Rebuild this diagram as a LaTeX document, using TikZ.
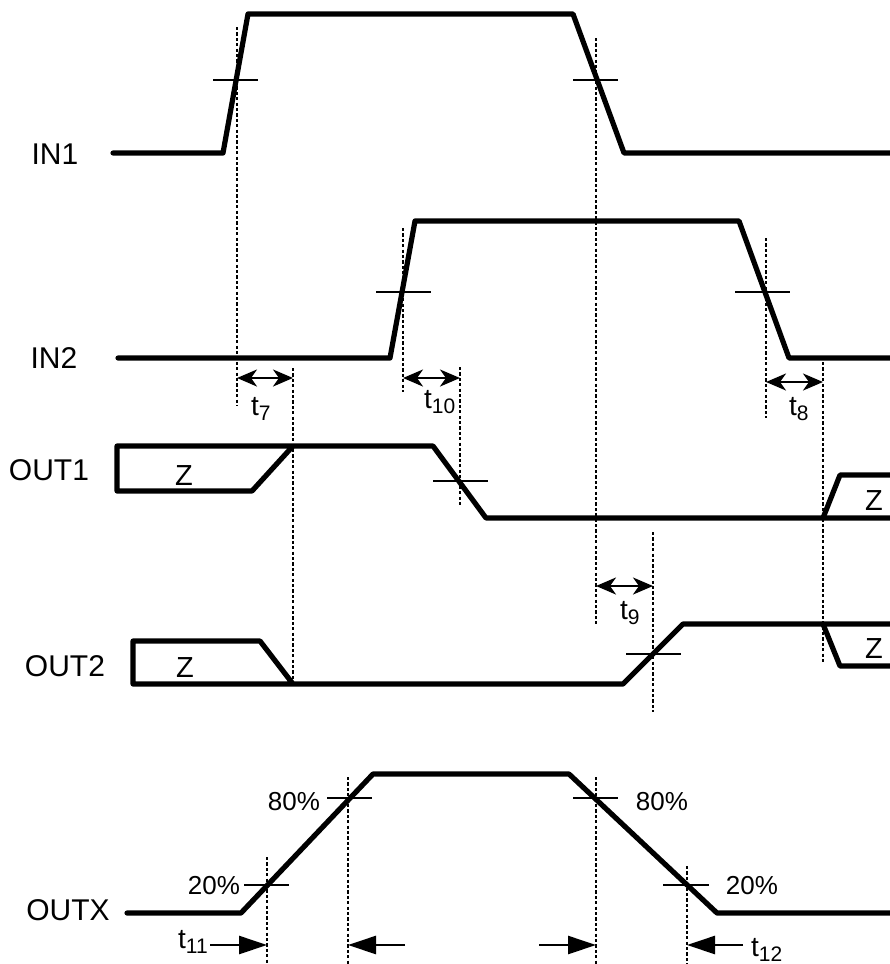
\documentclass[tikz,border=0pt]{standalone}
\usepackage{fontspec}
\setmainfont{Liberation Sans}
\usetikzlibrary{arrows.meta}
\newcommand{\tsub}[1]{t\raisebox{-5pt}{\fontsize{21}{21}\selectfont #1}}
\tikzset{
  dtip/.tip={Stealth[length=20pt,width=17pt,inset=6pt]},
  btip/.tip={Triangle[length=28pt,width=18pt]},
  sig/.style={line width=5.2pt, line join=round, line cap=round},
  tick/.style={line width=2.2pt},
  dotl/.style={line width=2.7pt, dash pattern=on 3.2pt off 2.2pt},
  dbl/.style={line width=2.6pt, dtip-dtip},
  one/.style={line width=2.6pt, -btip},
  siglabel/.style={inner sep=0pt, font=\fontsize{30}{36}\selectfont},
  small/.style={inner sep=0pt, font=\fontsize{26}{30}\selectfont},
  tlab/.style={inner sep=0pt, anchor=base west, font=\fontsize{28}{30}\selectfont},
  zlab/.style={inner sep=0pt, font=\fontsize{29}{30}\selectfont},
}
\begin{document}
\begin{tikzpicture}[x=1pt,y=-1pt]
\useasboundingbox (0,0) rectangle (890,964);
% signal labels
\node[siglabel] (lin1) at (55,154) {IN1};
\node[siglabel] (lin2) at (54,358) {IN2};
\node[siglabel] (lout1) at (49,470) {OUT1};
\node[siglabel] (lout2) at (65,666) {OUT2};
\node[siglabel] (loutx) at (68,910) {OUTX};
% IN1
\draw[sig] (113,153) -- (223,153) -- (248,14) -- (573,14) -- (624,153) -- (892,153);
% IN2
\draw[sig] (118,358) -- (390,358) -- (415,221) -- (739,221) -- (789,358) -- (892,358);
% OUT1
\draw[sig] (293,446) -- (252,491) -- (117,491) -- (117,446) -- (433,446) -- (486,518) -- (892,518);
\draw[sig] (823,518) -- (840,475) -- (892,475);
% OUT2
\draw[sig] (293,684) -- (260,641) -- (133,641) -- (133,684) -- (623,684) -- (683,624) -- (892,624);
\draw[sig] (823,624) -- (840,666) -- (892,666);
% OUTX
\draw[sig] (127,913) -- (241,913) -- (373,774) -- (569,774) -- (717,913) -- (892,913);
% Z labels
\node[zlab] (z1) at (184,476) {Z};
\node[zlab] (z2) at (185,668) {Z};
\node[zlab] (z3) at (874,501) {Z};
\node[zlab] (z4) at (874,649) {Z};
% ticks
\draw[tick] (213,80) -- (258,80);
\draw[tick] (573,80) -- (618,80);
\draw[tick] (376,292) -- (431,292);
\draw[tick] (735,292) -- (790,292);
\draw[tick] (433,481) -- (488,481);
\draw[tick] (626,654) -- (681,654);
\draw[tick] (327,798) -- (372,798);
\draw[tick] (244,885) -- (289,885);
\draw[tick] (573,798) -- (618,798);
\draw[tick] (663,885) -- (709,885);
% dotted lines
\draw[dotl] (237,27) -- (237,406);
\draw[dotl] (596,38) -- (596,625);
\draw[dotl] (403,228) -- (403,392);
\draw[dotl] (766,238) -- (766,418);
\draw[dotl] (293,368) -- (293,682);
\draw[dotl] (460,367) -- (460,505);
\draw[dotl] (823,362) -- (823,663);
\draw[dotl] (653,532) -- (653,712);
\draw[dotl] (348,777) -- (348,966);
\draw[dotl] (267,857) -- (267,966);
\draw[dotl] (596,777) -- (596,966);
\draw[dotl] (687,866) -- (687,966);
% timing arrows
\coordinate (a7l) at (237,378); \coordinate (a7r) at (293,378);
\coordinate (a10l) at (403,378); \coordinate (a10r) at (460,378);
\coordinate (a8l) at (766,382); \coordinate (a8r) at (823,382);
\coordinate (a9l) at (596,586); \coordinate (a9r) at (653,586);
\draw[dbl] (a7l) -- (a7r);
\draw[dbl] (a10l) -- (a10r);
\draw[dbl] (a8l) -- (a8r);
\draw[dbl] (a9l) -- (a9r);
\coordinate (b1s) at (210,945); \coordinate (b1e) at (267,945);
\coordinate (b2s) at (405,945); \coordinate (b2e) at (348,945);
\coordinate (b3s) at (539,945); \coordinate (b3e) at (596,945);
\coordinate (b4s) at (743,945); \coordinate (b4e) at (687,945);
\draw[one] (b1s) -- (b1e);
\draw[one] (b2s) -- (b2e);
\draw[one] (b3s) -- (b3e);
\draw[one] (b4s) -- (b4e);
% timing labels
\node[tlab] (t7) at (251,415) {\tsub{7}};
\node[tlab] (t10) at (424,408) {\tsub{10}};
\node[tlab] (t8) at (789,415) {\tsub{8}};
\node[tlab] (t9) at (620,619) {\tsub{9}};
\node[tlab] (t11) at (178,948) {\tsub{11}};
\node[tlab] (t12) at (751,956) {\tsub{12}};
% percent labels
\node[small] (p1) at (294,802) {80\%};
\node[small] (p2) at (214,886) {20\%};
\node[small] (p3) at (662,802) {80\%};
\node[small] (p4) at (752,886) {20\%};
\end{tikzpicture}
\end{document}
